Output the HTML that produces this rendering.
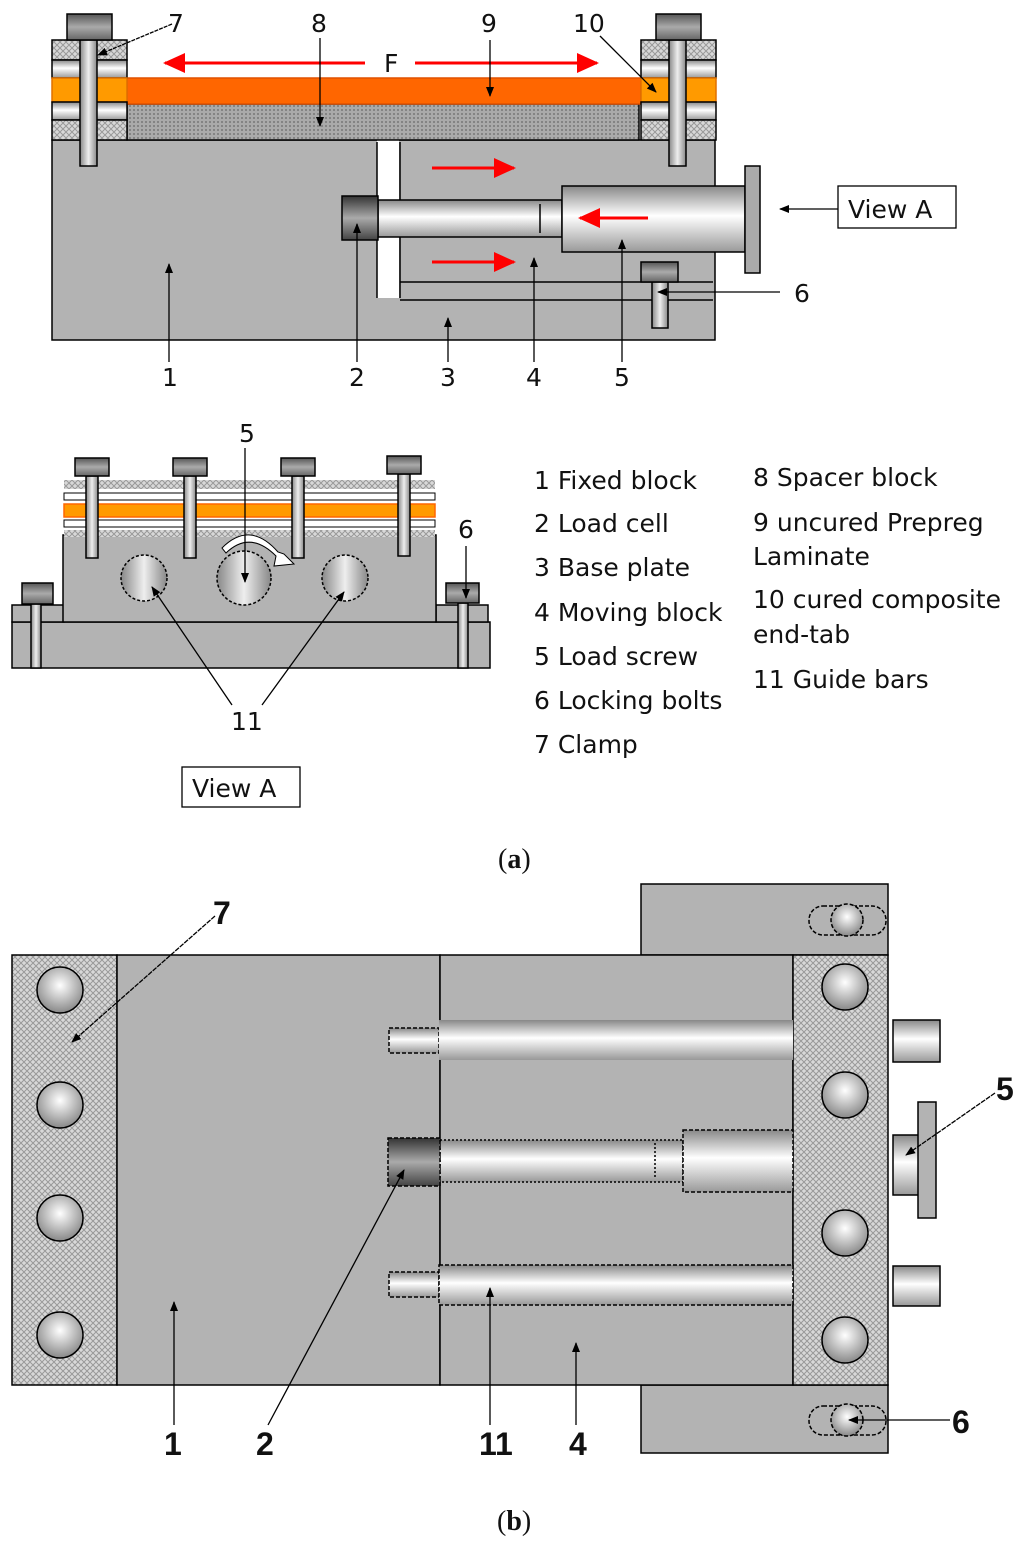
<!DOCTYPE html>
<html><head><meta charset="utf-8"><style>
html,body{margin:0;padding:0;background:#fff}
svg{display:block}
.t{font-family:"DejaVu Sans","Liberation Sans",sans-serif;font-size:25px;fill:#111}
.b{font-family:"Liberation Sans",sans-serif;font-size:32px;font-weight:bold;fill:#111}
.s{font-family:"Liberation Serif",serif;font-size:28px;fill:#111}
</style></head><body>
<svg width="1024" height="1546" viewBox="0 0 1024 1546" xmlns="http://www.w3.org/2000/svg">
<defs>
<pattern id="h" width="6" height="6" patternUnits="userSpaceOnUse"><rect width="6" height="6" fill="#d8d8d8"/><path d="M0 0L6 6M6 0L0 6" stroke="#999" stroke-width="1"/></pattern>
<pattern id="d" width="4" height="4" patternUnits="userSpaceOnUse"><rect width="4" height="4" fill="#aaa"/><circle cx="2" cy="2" r="1" fill="#777"/></pattern>
<linearGradient id="cv" x1="0" y1="0" x2="0" y2="1"><stop offset="0" stop-color="#888"/><stop offset=".45" stop-color="#fff"/><stop offset="1" stop-color="#999"/></linearGradient>
<linearGradient id="ch" x1="0" y1="0" x2="1" y2="0"><stop offset="0" stop-color="#888"/><stop offset=".5" stop-color="#eee"/><stop offset="1" stop-color="#888"/></linearGradient>
<linearGradient id="dk" x1="0" y1="0" x2="0" y2="1"><stop offset="0" stop-color="#333"/><stop offset=".5" stop-color="#aaa"/><stop offset="1" stop-color="#444"/></linearGradient>
<linearGradient id="hd" x1="0" y1="0" x2="0" y2="1"><stop offset="0" stop-color="#555"/><stop offset=".5" stop-color="#aaa"/><stop offset="1" stop-color="#666"/></linearGradient>
<radialGradient id="bl" cx=".5" cy=".4" r=".6"><stop offset="0" stop-color="#fff"/><stop offset="1" stop-color="#888"/></radialGradient>
<marker id="a" markerWidth="10" markerHeight="10" refX="9" refY="5" orient="auto" markerUnits="userSpaceOnUse"><path d="M0 1L10 5L0 9Z" fill="#000"/></marker>
<marker id="r" markerWidth="24" markerHeight="24" refX="20" refY="12" orient="auto" markerUnits="userSpaceOnUse"><path d="M0 2L22 12L0 22Z" fill="#f00"/></marker>
</defs>
<g stroke="#000" stroke-width="1.5">
<rect x="52" y="140" width="663" height="200" fill="#b3b3b3"/>
<rect x="377" y="140" width="22" height="158" fill="#fff" stroke="none"/>
<line x1="377" y1="142" x2="377" y2="298"/><line x1="400" y1="142" x2="400" y2="298"/>
<line x1="400" y1="282" x2="713" y2="282"/><line x1="400" y1="300" x2="713" y2="300"/>
<rect x="127" y="104" width="512" height="36" fill="url(#d)"/>
<rect x="127" y="78" width="514" height="26" fill="#ff6600" stroke="#e05000"/>
<g id="cl"><rect x="52" y="40" width="75" height="20" fill="url(#h)"/><rect x="52" y="60" width="75" height="18" fill="url(#cv)"/><rect x="52" y="78" width="75" height="24" fill="#ff9a00" stroke="#e07000"/><rect x="52" y="102" width="75" height="18" fill="url(#cv)"/><rect x="52" y="120" width="75" height="20" fill="url(#h)"/><rect x="80" y="40" width="17" height="126" fill="url(#ch)"/><rect x="67" y="14" width="45" height="26" fill="url(#hd)"/></g>
<use href="#cl" transform="translate(589,0)"/>
<rect x="378" y="200" width="184" height="37" fill="url(#cv)"/>
<line x1="540" y1="204" x2="540" y2="233"/>
<rect x="342" y="196" width="36" height="44" fill="url(#dk)"/>
<rect x="562" y="186" width="183" height="66" fill="url(#cv)"/>
<rect x="745" y="166" width="15" height="107" fill="#aaa"/>
<rect x="652" y="282" width="16" height="46" fill="url(#ch)"/>
<rect x="641" y="262" width="37" height="20" fill="url(#hd)"/>
</g>
<g stroke="#f00" stroke-width="3" fill="none">
<line x1="365" y1="63" x2="165" y2="63" marker-end="url(#r)"/>
<line x1="415" y1="63" x2="597" y2="63" marker-end="url(#r)"/>
<line x1="432" y1="168" x2="514" y2="168" marker-end="url(#r)"/>
<line x1="432" y1="262" x2="514" y2="262" marker-end="url(#r)"/>
<line x1="648" y1="218" x2="580" y2="218" marker-end="url(#r)"/>
</g>
<text class="t" x="384" y="72">F</text>
<g stroke="#000" stroke-width="1.3" fill="none">
<line x1="172" y1="24" x2="98" y2="55" stroke-dasharray="4 1" marker-end="url(#a)"/>
<line x1="320" y1="38" x2="320" y2="126" marker-end="url(#a)"/>
<line x1="490" y1="40" x2="490" y2="96" marker-end="url(#a)"/>
<line x1="600" y1="36" x2="656" y2="92" marker-end="url(#a)"/>
<line x1="169" y1="362" x2="169" y2="264" marker-end="url(#a)"/>
<line x1="357" y1="362" x2="357" y2="224" marker-end="url(#a)"/>
<line x1="448" y1="362" x2="448" y2="318" marker-end="url(#a)"/>
<line x1="534" y1="362" x2="534" y2="258" marker-end="url(#a)"/>
<line x1="622" y1="362" x2="622" y2="240" marker-end="url(#a)"/>
<line x1="780" y1="292" x2="658" y2="292" marker-end="url(#a)"/>
<line x1="838" y1="209" x2="780" y2="209" marker-end="url(#a)"/>
<rect x="838" y="186" width="118" height="42"/>
<rect x="182" y="767" width="118" height="40"/>
</g>
<g class="t">
<text x="168" y="32">7</text><text x="311" y="32">8</text><text x="481" y="32">9</text><text x="573" y="32">10</text>
<text x="162" y="386">1</text><text x="349" y="386">2</text><text x="440" y="386">3</text><text x="526" y="386">4</text><text x="614" y="386">5</text>
<text x="794" y="302">6</text><text x="848" y="218">View A</text>
<text x="239" y="442">5</text><text x="458" y="538">6</text><text x="231" y="730">11</text><text x="192" y="797">View A</text>
<text x="534" y="489">1 Fixed block</text><text x="534" y="532">2 Load cell</text><text x="534" y="576">3 Base plate</text><text x="534" y="621">4 Moving block</text><text x="534" y="665">5 Load screw</text><text x="534" y="709">6 Locking bolts</text><text x="534" y="753">7 Clamp</text>
<text x="753" y="486">8 Spacer block</text><text x="753" y="531">9 uncured Prepreg</text><text x="753" y="565">Laminate</text><text x="753" y="608">10 cured composite</text><text x="753" y="643">end-tab</text><text x="753" y="688">11 Guide bars</text>
</g>
<g stroke="#000" stroke-width="1.5">
<rect x="12" y="622" width="478" height="46" fill="#b3b3b3"/>
<rect x="12" y="605" width="52" height="17" fill="#b3b3b3"/>
<rect x="436" y="605" width="52" height="17" fill="#b3b3b3"/>
<rect x="63" y="535" width="373" height="87" fill="#b3b3b3"/>
<rect x="64" y="480" width="371" height="9" fill="url(#h)" stroke="none"/>
<rect x="64" y="493" width="371" height="7" fill="#fff" stroke-width="1"/>
<rect x="64" y="504" width="371" height="13" fill="#ff9a00" stroke="#ff6600"/>
<rect x="64" y="520" width="371" height="7" fill="#fff" stroke-width="1"/>
<rect x="64" y="530" width="371" height="7" fill="url(#h)" stroke="none"/>
<g id="vb"><rect x="86" y="476" width="12" height="82" fill="url(#ch)"/><rect x="75" y="458" width="34" height="18" fill="url(#hd)"/></g>
<use href="#vb" transform="translate(98,0)"/><use href="#vb" transform="translate(206,0)"/><use href="#vb" transform="translate(312,-2)"/>
<rect x="31" y="604" width="10" height="64" fill="url(#ch)"/><rect x="22" y="583" width="31" height="21" fill="url(#hd)"/>
<rect x="458" y="603" width="10" height="65" fill="url(#ch)"/><rect x="446" y="583" width="33" height="20" fill="url(#hd)"/>
<g stroke-dasharray="3 2"><circle cx="144" cy="578" r="23" fill="url(#ch)"/><circle cx="244" cy="578" r="27" fill="url(#ch)"/><circle cx="345" cy="578" r="23" fill="url(#ch)"/></g>
<path d="M222 548Q250 520 278 552L284 554L294 564L274 566L276 556Q250 530 226 553Z" fill="#fff" stroke-width="1"/>
</g>
<g stroke="#000" stroke-width="1.3" fill="none">
<line x1="245" y1="448" x2="245" y2="582" marker-end="url(#a)"/>
<line x1="466" y1="546" x2="466" y2="598" marker-end="url(#a)"/>
<line x1="232" y1="705" x2="152" y2="587" marker-end="url(#a)"/>
<line x1="262" y1="705" x2="344" y2="592" marker-end="url(#a)"/>
</g>
<text class="s" x="498" y="868">(<tspan font-weight="bold">a</tspan>)</text>
<g stroke="#000" stroke-width="1.5">
<rect x="641" y="884" width="247" height="71" fill="#b3b3b3"/>
<rect x="641" y="1385" width="247" height="68" fill="#b3b3b3"/>
<rect x="12" y="955" width="105" height="430" fill="url(#h)"/>
<rect x="117" y="955" width="323" height="430" fill="#b3b3b3"/>
<rect x="440" y="955" width="353" height="430" fill="#b3b3b3"/>
<rect x="793" y="955" width="95" height="430" fill="url(#h)"/>
<g fill="url(#bl)"><circle cx="60" cy="990" r="23"/><circle cx="60" cy="1105" r="23"/><circle cx="60" cy="1218" r="23"/><circle cx="60" cy="1335" r="23"/>
<circle cx="845" cy="987" r="23"/><circle cx="845" cy="1095" r="23"/><circle cx="845" cy="1233" r="23"/><circle cx="845" cy="1340" r="23"/></g>
<g stroke-dasharray="4 2" fill="none"><rect x="809" y="906" width="77" height="29" rx="14"/><rect x="809" y="1406" width="77" height="29" rx="14"/></g>
<circle cx="847" cy="920" r="16" fill="url(#bl)" stroke-dasharray="4 2"/><circle cx="847" cy="1420" r="16" fill="url(#bl)" stroke-dasharray="4 2"/>
<g stroke-dasharray="4 2">
<rect x="389" y="1028" width="50" height="25" fill="url(#cv)"/>
<rect x="439" y="1020" width="354" height="40" fill="url(#cv)" stroke="none"/>
<rect x="389" y="1272" width="50" height="25" fill="url(#cv)"/>
<rect x="439" y="1265" width="354" height="40" fill="url(#cv)"/>
<rect x="440" y="1140" width="243" height="42" fill="url(#cv)" stroke-dasharray="2 2"/>
<line x1="655" y1="1143" x2="655" y2="1179" stroke-dasharray="2 2"/>
<rect x="683" y="1130" width="110" height="62" fill="url(#cv)"/>
<rect x="388" y="1138" width="52" height="48" fill="url(#dk)"/>
</g>
<rect x="893" y="1020" width="47" height="42" fill="url(#cv)"/>
<rect x="893" y="1266" width="47" height="40" fill="url(#cv)"/>
<rect x="893" y="1135" width="28" height="60" fill="url(#cv)"/>
<rect x="918" y="1102" width="18" height="116" fill="#b3b3b3"/>
</g>
<g stroke="#000" stroke-width="1.3" fill="none">
<line x1="215" y1="916" x2="72" y2="1042" stroke-dasharray="5 1" marker-end="url(#a)"/>
<line x1="174" y1="1425" x2="174" y2="1302" marker-end="url(#a)"/>
<line x1="268" y1="1425" x2="404" y2="1170" marker-end="url(#a)"/>
<line x1="490" y1="1425" x2="490" y2="1288" marker-end="url(#a)"/>
<line x1="576" y1="1425" x2="576" y2="1343" marker-end="url(#a)"/>
<line x1="995" y1="1093" x2="906" y2="1155" stroke-dasharray="5 1" marker-end="url(#a)"/>
<line x1="950" y1="1420" x2="849" y2="1420" marker-end="url(#a)"/>
</g>
<g class="b"><text x="213" y="924">7</text><text x="164" y="1455">1</text><text x="256" y="1455">2</text><text x="479" y="1455">11</text><text x="569" y="1455">4</text><text x="996" y="1100">5</text><text x="952" y="1433">6</text></g>
<text class="s" x="497" y="1530">(<tspan font-weight="bold">b</tspan>)</text>
</svg>
</body></html>
